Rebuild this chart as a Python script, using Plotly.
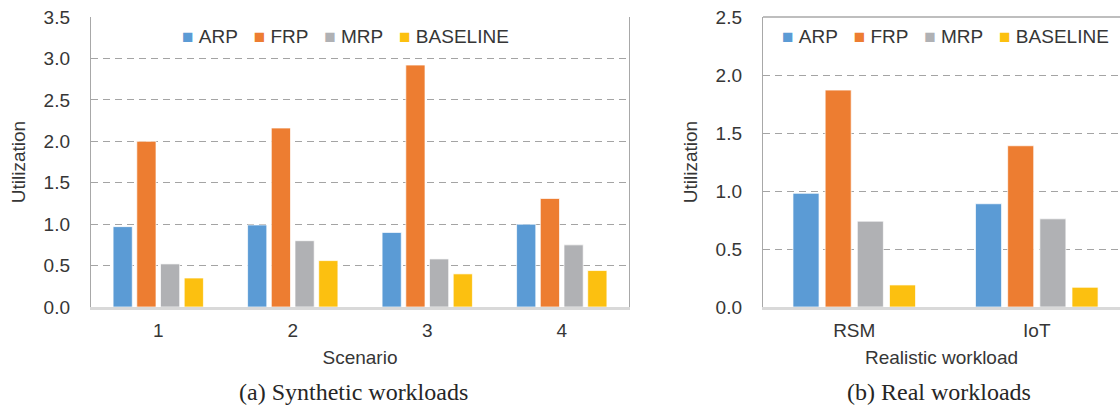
import plotly.graph_objects as go

# Utilization per scheme
series_names = ["ARP", "FRP", "MRP", "BASELINE"]
series_colors = ["#5B9BD5", "#ED7D31", "#B0B1B4", "#FCC010"]

# (a) synthetic workloads
scenarios = ["1", "2", "3", "4"]
syn_arp = [0.97, 0.99, 0.90, 1.00]
syn_frp = [2.00, 2.16, 2.92, 1.31]
syn_mrp = [0.52, 0.80, 0.58, 0.75]
syn_baseline = [0.35, 0.56, 0.40, 0.44]

# (b) real workloads
workloads = ["RSM", "IoT"]
real_arp = [0.98, 0.89]
real_frp = [1.87, 1.39]
real_mrp = [0.74, 0.76]
real_baseline = [0.19, 0.17]

left_ticks = [0.0, 0.5, 1.0, 1.5, 2.0, 2.5, 3.0, 3.5]
right_ticks = [0.0, 0.5, 1.0, 1.5, 2.0, 2.5]

TEXT = "#363636"
SANS = "Liberation Sans, Arial, sans-serif"
SERIF = "Liberation Serif, Times New Roman, serif"

fig = go.Figure()

syn_values = [syn_arp, syn_frp, syn_mrp, syn_baseline]
real_values = [real_arp, real_frp, real_mrp, real_baseline]

for name, color, vals in zip(series_names, series_colors, syn_values):
    fig.add_trace(go.Bar(
        x=scenarios, y=vals, name=name, xaxis="x", yaxis="y",
        marker=dict(color=color, line=dict(color="rgba(255,255,255,0.7)", width=1)),
        showlegend=False, hoverinfo="x+y+name",
    ))

for name, color, vals in zip(series_names, series_colors, real_values):
    fig.add_trace(go.Bar(
        x=workloads, y=vals, name=name, xaxis="x2", yaxis="y2",
        marker=dict(color=color, line=dict(color="rgba(255,255,255,0.7)", width=1)),
        showlegend=False, hoverinfo="x+y+name",
    ))

# compact one-line key: a coloured square right before each series name
NB = "\u00a0"
key_text = (NB * 3).join(
    f"<span style='color:{c}'>\u25a0</span>{NB}{n}" for n, c in zip(series_names, series_colors)
)

ydom = [103 / 410, 393 / 410]

common_y = dict(
    showgrid=True, gridcolor="#A4A4A4", griddash="7px,5px", gridwidth=1.4,
    zeroline=False, showline=True, linecolor="#A8A8A8", linewidth=1.4,
    tickformat=".1f", tickfont=dict(family=SANS, size=19, color=TEXT),
    ticks="", ticklabelstandoff=16, domain=ydom, automargin=False,
    title=dict(text="Utilization", font=dict(family=SANS, size=19, color=TEXT), standoff=12),
)
common_x = dict(
    type="category", showgrid=False, zeroline=False, showline=True,
    linecolor="#D9D9D9", linewidth=2.5, ticks="", automargin=False,
    tickfont=dict(family=SANS, size=19, color=TEXT), ticklabelstandoff=4,
)

fig.update_layout(
    width=1120, height=410,
    margin=dict(l=0, r=0, t=0, b=0, autoexpand=False),
    paper_bgcolor="white", plot_bgcolor="white",
    barmode="group", bargap=0.295, bargroupgap=0.19,
    showlegend=False,
    xaxis=dict(common_x, domain=[91 / 1120, 629 / 1120], anchor="y",
               range=[-0.5, 3.5],
               title=dict(text="Scenario", font=dict(family=SANS, size=19, color=TEXT), standoff=12)),
    yaxis=dict(common_y, anchor="x", range=[0, 3.5], tickvals=left_ticks, mirror=True),
    xaxis2=dict(common_x, domain=[763 / 1120, 1.0], anchor="y2",
                range=[-0.5, 1.456],
                title=dict(text="Realistic workload", font=dict(family=SANS, size=19, color=TEXT), standoff=12)),
    yaxis2=dict(common_y, anchor="x2", range=[0, 2.5], tickvals=right_ticks),
    annotations=[
        dict(text=key_text, x=345 / 1120, y=(410 - 37) / 410, xref="paper", yref="paper",
             showarrow=False, xanchor="center", yanchor="middle",
             font=dict(family=SANS, size=19, color=TEXT)),
        dict(text=key_text, x=945 / 1120, y=(410 - 37) / 410, xref="paper", yref="paper",
             showarrow=False, xanchor="center", yanchor="middle",
             font=dict(family=SANS, size=19, color=TEXT)),
        dict(text="(a) Synthetic workloads", x=353 / 1120, y=(410 - 392) / 410, xref="paper", yref="paper",
             showarrow=False, xanchor="center", yanchor="middle",
             font=dict(family=SERIF, size=24, color="#262626")),
        dict(text="(b) Real workloads", x=939 / 1120, y=(410 - 392) / 410, xref="paper", yref="paper",
             showarrow=False, xanchor="center", yanchor="middle",
             font=dict(family=SERIF, size=24, color="#262626")),
    ],
)

# top border of the right panel (its right side is cut at the page edge)
fig.add_shape(type="line", xref="x2 domain", yref="y2 domain", x0=0, x1=1, y0=1, y1=1,
              line=dict(color="#A8A8A8", width=1.4))

fig.write_html("out.html")
